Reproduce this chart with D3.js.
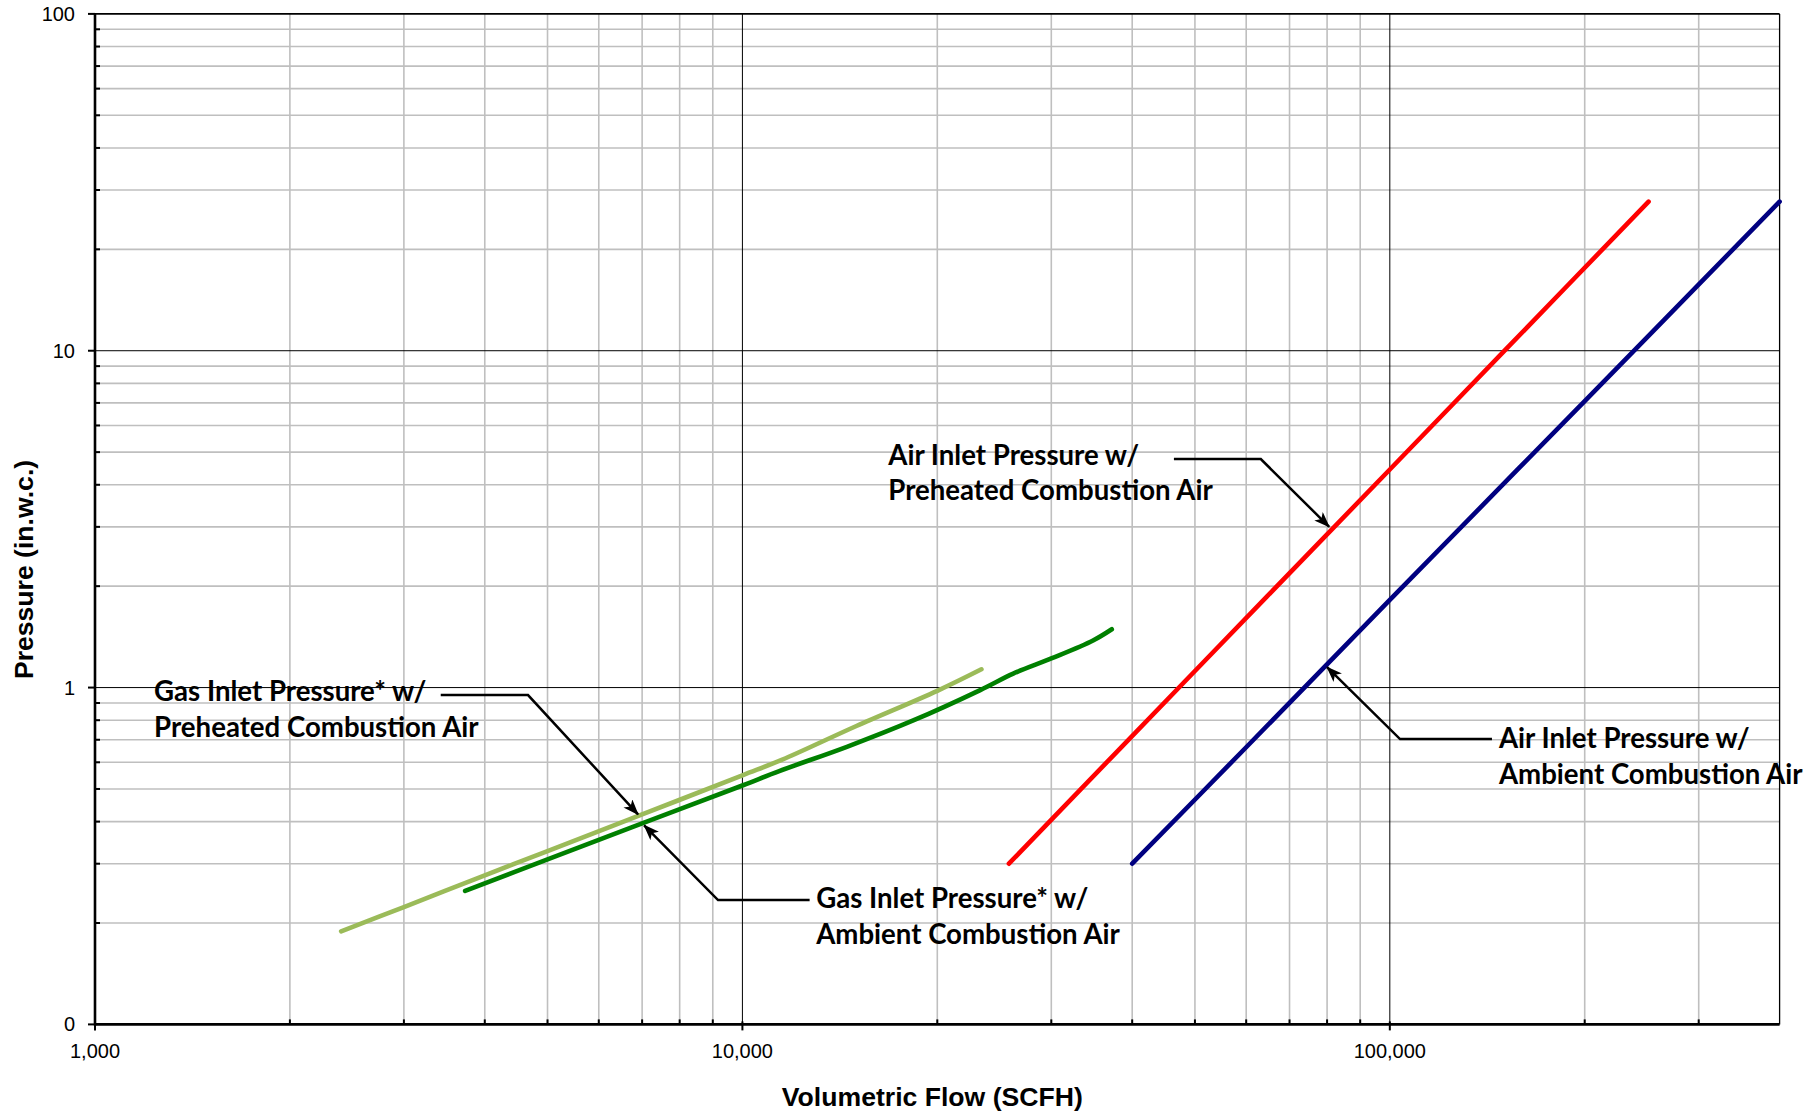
<!DOCTYPE html>
<html>
<head>
<meta charset="utf-8">
<script src="https://cdn.jsdelivr.net/npm/d3@7"></script>
<style>
  html, body { margin: 0; padding: 0; background: #ffffff; }
  svg { display: block; }
</style>
</head>
<body>
<svg id="chart" width="1819" height="1116"></svg>
<script>
// ---------------- DATA ----------------
const xTickValues = [1000, 10000, 100000];
const xTickLabels = ["1,000", "10,000", "100,000"];
const yTickValues = [0.1, 1, 10, 100];
const yTickLabels = ["0", "1", "10", "100"];

const xTitle = "Volumetric Flow (SCFH)";
const yTitle = "Pressure (in.w.c.)";

// Gas Inlet Pressure* w/ Preheated Combustion Air (light green)
const gasPreheatedFlow     = [2400, 3000, 4000, 5000, 7000, 10000, 11500, 15000, 20000, 23400];
const gasPreheatedPressure = [0.189, 0.223, 0.277, 0.327, 0.42, 0.549, 0.61, 0.769, 0.978, 1.133];

// Gas Inlet Pressure* w/ Ambient Combustion Air (dark green)
const gasAmbientFlow     = [3730, 5000, 7000, 10000, 11400, 14500, 18400, 23300, 26200, 30000, 34800, 37200];
const gasAmbientPressure = [0.249, 0.309, 0.395, 0.512, 0.565, 0.667, 0.80, 0.983, 1.10, 1.22, 1.38, 1.49];

// Air Inlet Pressure w/ Preheated Combustion Air (red)
const airPreheatedFlow     = [25800, 50000, 100000, 150000, 251000];
const airPreheatedPressure = [0.3, 1.12, 4.44, 9.95, 27.7];

// Air Inlet Pressure w/ Ambient Combustion Air (navy)
const airAmbientFlow     = [40000, 60000, 100000, 200000, 400000];
const airAmbientPressure = [0.3, 0.665, 1.82, 7.09, 27.7];

const seriesNames = [
  "Gas Inlet Pressure* w/ Preheated Combustion Air",
  "Gas Inlet Pressure* w/ Ambient Combustion Air",
  "Air Inlet Pressure w/ Preheated Combustion Air",
  "Air Inlet Pressure w/ Ambient Combustion Air"
];

// Annotation labels (text lines) and their leader anchors in data units
const annotationLines = [
  ["Air Inlet Pressure w/", "Preheated Combustion Air"],
  ["Air Inlet Pressure w/", "Ambient Combustion Air"],
  ["Gas Inlet Pressure* w/", "Preheated Combustion Air"],
  ["Gas Inlet Pressure* w/", "Ambient Combustion Air"]
];
// label anchor (flow, pressure at first baseline)
const annotationTextAt = [[16800, 4.58], [147400, 0.66], [1234, 0.912], [13000, 0.221]];
// leader: start, elbow, arrow tip (flow, pressure)
const annotationLeader = [
  [[46400, 4.77], [63200, 4.77], [80600, 3.0]],
  [[143800, 0.703], [103700, 0.703], [80000, 1.15]],
  [[3420, 0.95], [4665, 0.95], [6900, 0.42]],
  [[12700, 0.234], [9170, 0.234], [7050, 0.39]]
];

// ---------------- LAYOUT ----------------
const svg = d3.select("#chart");
const plotL = 95, plotR = 1779.6, plotT = 13.9, plotB = 1024.4;

const x = d3.scaleLog().domain([1000, 400000]).range([plotL, plotR]);
const y = d3.scaleLog().domain([0.1, 100]).range([plotB, plotT]);

const minorGrid = "#bfbfbf";

// minor gridline values
const xMinor = [];
[1000, 10000, 100000].forEach(d => { for (let k = 2; k <= 9; k++) { const v = d * k; if (v < 400000) xMinor.push(v); } });
const yMinor = [];
[0.1, 1, 10].forEach(d => { for (let k = 2; k <= 9; k++) yMinor.push(d * k); });

const grid = svg.append("g");
grid.selectAll("line.xm").data(xMinor).enter().append("line")
  .attr("x1", d => x(d)).attr("x2", d => x(d)).attr("y1", plotT).attr("y2", plotB)
  .attr("stroke", minorGrid).attr("stroke-width", 1.6);
grid.selectAll("line.ym").data(yMinor).enter().append("line")
  .attr("x1", plotL).attr("x2", plotR).attr("y1", d => y(d)).attr("y2", d => y(d))
  .attr("stroke", minorGrid).attr("stroke-width", 1.6);

// major grid lines (thin black)
grid.selectAll("line.xM").data([10000, 100000]).enter().append("line")
  .attr("x1", d => x(d)).attr("x2", d => x(d)).attr("y1", plotT).attr("y2", plotB)
  .attr("stroke", "#000").attr("stroke-width", 1);
grid.selectAll("line.yM").data([1, 10]).enter().append("line")
  .attr("x1", plotL).attr("x2", plotR).attr("y1", d => y(d)).attr("y2", d => y(d))
  .attr("stroke", "#000").attr("stroke-width", 1);
// frame top / right
grid.append("line").attr("x1", plotL).attr("x2", plotR).attr("y1", y(100)).attr("y2", y(100))
  .attr("stroke", "#000").attr("stroke-width", 1.6);
grid.append("line").attr("x1", x(400000)).attr("x2", x(400000)).attr("y1", plotT).attr("y2", plotB)
  .attr("stroke", "#000").attr("stroke-width", 1.3);

// ---------------- SERIES ----------------
const series = [
  { flow: gasPreheatedFlow, p: gasPreheatedPressure, color: "#9bbb59" },
  { flow: gasAmbientFlow,   p: gasAmbientPressure,   color: "#008000" },
  { flow: airPreheatedFlow, p: airPreheatedPressure, color: "#ff0000" },
  { flow: airAmbientFlow,   p: airAmbientPressure,   color: "#000080" }
];
const line = d3.line().x(d => x(d[0])).y(d => y(d[1])).curve(d3.curveCatmullRom.alpha(0.5));
svg.append("g").selectAll("path").data(series).enter().append("path")
  .attr("d", s => line(s.flow.map((f, i) => [f, s.p[i]])))
  .attr("fill", "none")
  .attr("stroke", s => s.color)
  .attr("stroke-width", 4.6)
  .attr("stroke-linecap", "round")
  .attr("stroke-linejoin", "round");

// ---------------- AXES ----------------
const axes = svg.append("g");
// y minor ticks (inward)
axes.selectAll("line.ytm").data(yMinor).enter().append("line")
  .attr("x1", plotL).attr("x2", plotL + 5).attr("y1", d => y(d)).attr("y2", d => y(d))
  .attr("stroke", "#000").attr("stroke-width", 2);
// y major ticks (outward)
axes.selectAll("line.ytM").data(yTickValues).enter().append("line")
  .attr("x1", plotL - 7).attr("x2", plotL).attr("y1", d => y(d)).attr("y2", d => y(d))
  .attr("stroke", "#000").attr("stroke-width", 2);
// x minor ticks (inward)
axes.selectAll("line.xtm").data(xMinor).enter().append("line")
  .attr("x1", d => x(d)).attr("x2", d => x(d)).attr("y1", plotB - 5).attr("y2", plotB)
  .attr("stroke", "#000").attr("stroke-width", 2);
// x major ticks (outward)
axes.selectAll("line.xtM").data(xTickValues).enter().append("line")
  .attr("x1", d => x(d)).attr("x2", d => x(d)).attr("y1", plotB - 3).attr("y2", plotB + 6)
  .attr("stroke", "#000").attr("stroke-width", 2);
// axis lines
axes.append("line").attr("x1", plotL).attr("x2", plotL).attr("y1", plotT - 0.5).attr("y2", plotB + 1)
  .attr("stroke", "#000").attr("stroke-width", 2.6);
axes.append("line").attr("x1", plotL - 1).attr("x2", plotR).attr("y1", plotB).attr("y2", plotB)
  .attr("stroke", "#000").attr("stroke-width", 2.6);

// tick labels
const tickFont = "'Liberation Sans', Arial, sans-serif";
axes.selectAll("text.yl").data(yTickValues).enter().append("text")
  .attr("x", 75).attr("y", d => y(d)).attr("dy", "0.35em")
  .attr("text-anchor", "end")
  .attr("font-family", tickFont).attr("font-size", 20).attr("fill", "#000")
  .text((d, i) => yTickLabels[i]);
axes.selectAll("text.xl").data(xTickValues).enter().append("text")
  .attr("x", d => x(d)).attr("y", 1058)
  .attr("text-anchor", "middle")
  .attr("font-family", tickFont).attr("font-size", 20).attr("fill", "#000")
  .text((d, i) => xTickLabels[i]);

// axis titles
svg.append("text")
  .attr("x", (plotL + plotR) / 2 - 5).attr("y", 1106)
  .attr("text-anchor", "middle")
  .attr("font-family", tickFont).attr("font-weight", "bold").attr("font-size", 26.6)
  .text(xTitle);
svg.append("text")
  .attr("transform", "translate(33,569.5) rotate(-90)")
  .attr("text-anchor", "middle")
  .attr("font-family", tickFont).attr("font-weight", "bold").attr("font-size", 26.6)
  .text(yTitle);

// ---------------- ANNOTATIONS ----------------
const defs = svg.append("defs");
defs.append("marker")
  .attr("id", "arrow")
  .attr("markerUnits", "userSpaceOnUse")
  .attr("viewBox", "0 0 16 12")
  .attr("markerWidth", 16).attr("markerHeight", 12)
  .attr("refX", 15).attr("refY", 6)
  .attr("orient", "auto")
  .append("path")
  .attr("d", "M0,0 L16,6 L0,12 L4,6 Z")
  .attr("fill", "#000");

const ann = svg.append("g");
annotationLeader.forEach(pts => {
  ann.append("path")
    .attr("d", d3.line()(pts.map(p => [x(p[0]), y(p[1])])))
    .attr("fill", "none")
    .attr("stroke", "#000")
    .attr("stroke-width", 2.5)
    .attr("stroke-linejoin", "miter")
    .attr("marker-end", "url(#arrow)");
});
const annFont = "Lato, 'Open Sans', sans-serif";
annotationLines.forEach((lines, i) => {
  const t = ann.append("text")
    .attr("font-family", annFont).attr("font-weight", "bold").attr("font-size", 27.6)
    .attr("fill", "#000");
  lines.forEach((ln, j) => {
    t.append("tspan")
      .attr("x", x(annotationTextAt[i][0]))
      .attr("y", y(annotationTextAt[i][1]) + j * 35.5)
      .text(ln);
  });
});
</script>
</body>
</html>
